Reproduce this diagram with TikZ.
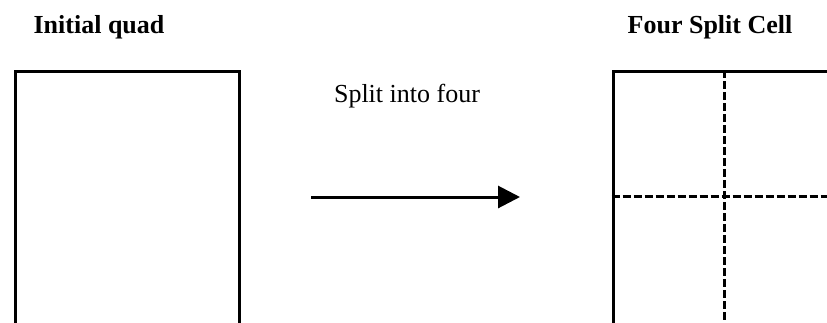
\documentclass[tikz,border=0pt]{standalone}
\usepackage{fontspec}
\setmainfont{Liberation Serif}
\usetikzlibrary{arrows.meta}
\tikzset{
  cell/.style={draw=black, line width=3pt, fill=none, anchor=north west, inner sep=0pt},
  splitline/.style={draw=black, line width=3pt, dash pattern=on 8pt off 3pt},
  title/.style={anchor=base, font=\fontsize{26}{30}\selectfont\bfseries, inner sep=0pt},
  label/.style={anchor=base, font=\fontsize{26}{30}\selectfont, inner sep=0pt},
  flow/.style={draw=black, line width=3pt, -{Triangle[length=22pt,width=22pt]}}
}
\begin{document}
\begin{tikzpicture}[x=1pt,y=-1pt]
\path[use as bounding box, clip] (0,0) rectangle (827,322);
\fill[white] (0,0) rectangle (827,322);
\node[title] (t1) at (99,33) {Initial quad};
\node[title] (t2) at (710,33) {Four Split Cell};
\node[label] (lab) at (407,102) {Split into four};
\node[cell, minimum width=224pt, minimum height=300pt] (quad) at (14,70) {};
\node[cell, minimum width=300pt, minimum height=300pt] (four) at (611.5,70) {};
\coordinate (vtop) at (724.5,70);
\coordinate (vbot) at (724.5,330);
\coordinate (hl) at (611.5,196);
\coordinate (hr) at (830,196);
\draw[splitline] (vtop) -- (vbot);
\draw[splitline] (hl) -- (hr);
\coordinate (as) at (311,197);
\coordinate (ae) at (520,197);
\draw[flow] (as) -- (ae);
\end{tikzpicture}
\end{document}
